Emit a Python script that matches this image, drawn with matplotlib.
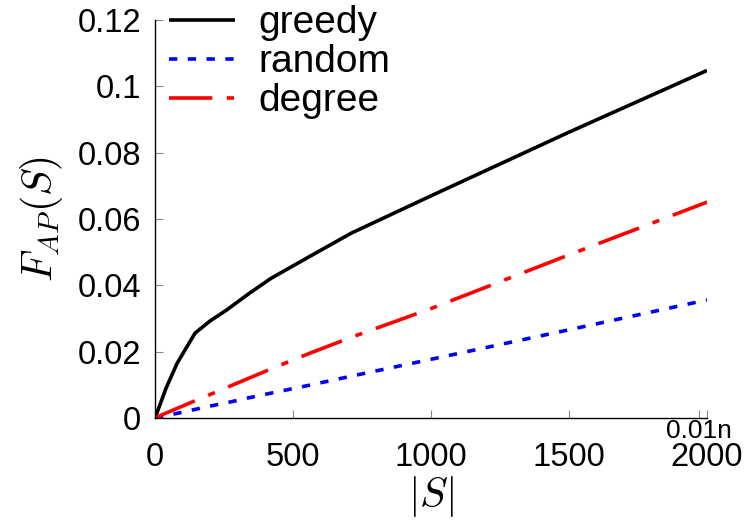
#!/usr/bin/env python3
"""F_AP(S) versus seed-set size for greedy, random and degree selection."""

import matplotlib

matplotlib.use("Agg")
import matplotlib.pyplot as plt
from matplotlib.ticker import FixedLocator, FormatStrFormatter, FuncFormatter

# values
set_size = [0, 40, 80, 145, 200, 260, 340, 420, 560, 710, 1000, 1500, 2000]
greedy = [0.0, 0.0090, 0.0165, 0.0256, 0.0293, 0.0326, 0.0375, 0.0421, 0.0487, 0.0557,
          0.0670, 0.0862, 0.1048]
random_sel = [0.0, 0.0007, 0.0014, 0.0026, 0.0036, 0.0046, 0.0061, 0.0075, 0.0099,
              0.0126, 0.0177, 0.0266, 0.0356]
degree = [0.0, 0.0015, 0.0029, 0.0052, 0.0071, 0.0092, 0.0120, 0.0148, 0.0195, 0.0243,
          0.0330, 0.0492, 0.0651]

x_ticks = [0, 500, 1000, 1500, 2000]
y_ticks = [0, 0.02, 0.04, 0.06, 0.08, 0.1, 0.12]
n_tick = 1970  # where 0.01n falls
n_label = "0.01n"

plt.rcParams["font.family"] = ["Liberation Sans", "DejaVu Sans"]
plt.rcParams["mathtext.fontset"] = "cm"

fig = plt.figure(figsize=(7.5, 5.25), dpi=100)
ax = fig.add_axes([0.2067, 0.2038, 0.736, 0.758])

ax.plot(set_size, greedy, color="black", lw=2.6, label="greedy", solid_capstyle="butt")
ax.plot(set_size, random_sel, color="blue", lw=2.6, dashes=(2.3, 2.9), label="random",
        dash_capstyle="butt")
ax.plot(set_size, degree, color="red", lw=2.6, dashes=(12.0, 4.0, 2.0, 4.0), label="degree",
        dash_capstyle="butt")

ax.set_xlim(0, 2000)
ax.set_ylim(0, 0.12)
ax.set_xticks(x_ticks)
ax.set_yticks(y_ticks)
ax.yaxis.set_major_formatter(FormatStrFormatter("%g"))
ax.xaxis.set_minor_locator(FixedLocator([n_tick]))
ax.xaxis.set_minor_formatter(FuncFormatter(lambda v, p: n_label))

ax.spines["top"].set_visible(False)
ax.spines["right"].set_visible(False)
for side in ["left", "bottom"]:
    ax.spines[side].set_linewidth(1.0)
    ax.spines[side].set_color("black")

ax.tick_params(axis="both", which="major", direction="in", length=6, width=0.8,
               color="#888888", labelsize=23.5)
ax.tick_params(axis="y", which="major", pad=10)
ax.tick_params(axis="x", which="major", pad=17)
ax.tick_params(axis="x", which="minor", direction="in", length=6, width=0.8,
               color="#888888", labelsize=19, pad=1)

ax.set_xlabel(r"$|S|$", fontsize=30, labelpad=1)
ax.set_ylabel(r"$F_{AP}(S)$", fontsize=30, labelpad=9)

ax.legend(loc="upper left", bbox_to_anchor=(0.225, 0.99), bbox_transform=fig.transFigure,
          frameon=False, fontsize=28, handlelength=1.7, handletextpad=0.6,
          labelspacing=0.08, borderpad=0.0, borderaxespad=0.0)

fig.savefig("out.png", dpi=100)
